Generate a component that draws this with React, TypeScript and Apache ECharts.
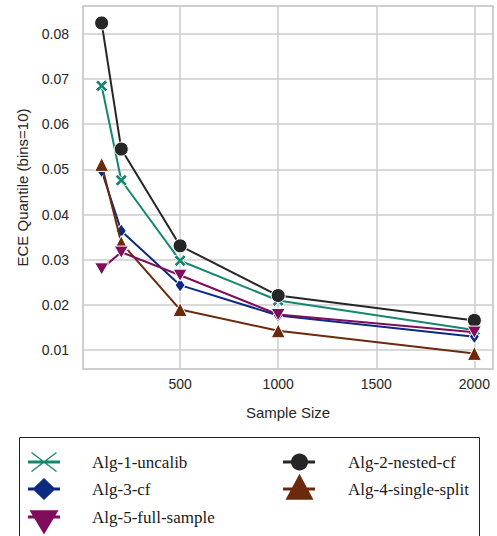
import React, { useEffect, useRef } from "react";
import * as echarts from "echarts";

const sampleSizes = [100, 200, 500, 1000, 2000];
const seriesNames = [
  "Alg-1-uncalib",
  "Alg-2-nested-cf",
  "Alg-3-cf",
  "Alg-4-single-split",
  "Alg-5-full-sample",
];
const alg1 = [0.0685, 0.0476, 0.0298, 0.0210, 0.0145];
const alg2 = [0.0824, 0.0545, 0.0331, 0.0221, 0.0166];
const alg3 = [0.0497, 0.0364, 0.0244, 0.0177, 0.0130];
const alg4 = [0.0511, 0.0338, 0.0190, 0.0143, 0.0093];
const alg5 = [0.0280, 0.0317, 0.0266, 0.0179, 0.0140];
const seriesValues = [alg1, alg2, alg3, alg4, alg5];
const colors = ["#15876f", "#262626", "#0c2a82", "#6b2a0c", "#800c5c"];

const X_PATH = "path://M0,2 L2,0 L5,3 L8,0 L10,2 L7,5 L10,8 L8,10 L5,7 L2,10 L0,8 L3,5 Z";
const DOWN_TRI = "path://M0,0 L10,0 L5,8.66 Z";
const symbols = [X_PATH, "circle", "diamond", "triangle", DOWN_TRI];
const symbolSizes: any[] = [12, 14, [10, 14], 14, 14];

// ---- legend icon paths (box 32 x 36, line centred at y = 18) ----
type Pt = [number, number];
const poly = (pts: Pt[]) =>
  "M" + pts.map((p) => p[0].toFixed(2) + "," + p[1].toFixed(2)).join(" L") + " Z";
const seg = (a: Pt, b: Pt, h: number) => {
  const dx = b[0] - a[0];
  const dy = b[1] - a[1];
  const len = Math.hypot(dx, dy);
  const px = (-dy / len) * h;
  const py = (dx / len) * h;
  return poly([
    [a[0] + px, a[1] + py],
    [b[0] + px, b[1] + py],
    [b[0] - px, b[1] - py],
    [a[0] - px, a[1] - py],
  ]);
};
const BOUNDS = "M0,0 M32,36 ";
const LINE = seg([0, 18], [32, 18], 1.5);
const circlePts = (cx: number, cy: number, r: number): Pt[] => {
  const pts: Pt[] = [];
  for (let k = 0; k < 32; k++) {
    const t = (k / 32) * Math.PI * 2;
    pts.push([cx + r * Math.cos(t), cy - r * Math.sin(t)]);
  }
  return pts;
};
const legendIcons = [
  "path://" + BOUNDS + LINE + " " + seg([3.5, 8.5], [28.5, 27.5], 0.7) + " " + seg([3.5, 27.5], [28.5, 8.5], 0.7),
  "path://" + BOUNDS + LINE + " " + poly(circlePts(16.5, 18, 8.5)),
  "path://" + BOUNDS + LINE + " " + poly([[16, 7], [4.5, 18], [16, 29], [27.5, 18]]),
  "path://" + BOUNDS + LINE + " " + poly([[16.5, 2.7], [2.5, 28.7], [30.5, 28.7]]),
  "path://" + BOUNDS + LINE + " " + poly([[16, 35.5], [30.5, 11.3], [1.5, 11.3]]),
];
const legendLeft = [28, 283, 28, 283, 28];
const legendLineY = [462, 462, 489, 489, 517];
const legendTextPad = [27, 28, 27, 28, 27];

export default function App() {
  const ref = useRef<HTMLDivElement>(null);
  useEffect(() => {
    if (!ref.current) return;
    const chart = echarts.init(ref.current, undefined, { renderer: "svg" });
    const axisLabelStyle = {
      color: "#262626",
      fontSize: 14,
      fontFamily: "Liberation Sans, Arial, sans-serif",
    };
    const series = seriesNames.map((name, i) => ({
      name,
      type: "line",
      data: sampleSizes.map((x, j) => [x, seriesValues[i][j]]),
      symbol: symbols[i],
      symbolSize: symbolSizes[i],
      symbolKeepAspect: true,
      showAllSymbol: true,
      lineStyle: { color: colors[i], width: 2 },
      itemStyle: { color: colors[i], borderColor: "#ffffff", borderWidth: 1 },
      z: 2 + i,
    }));
    const legends = seriesNames.map((name, i) => ({
      orient: "vertical",
      left: legendLeft[i],
      top: legendLineY[i] - 18,
      padding: 0,
      itemWidth: 32,
      itemHeight: 36,
      itemGap: 0,
      symbolKeepAspect: true,
      itemStyle: { borderWidth: 0 },
      data: [{ name, icon: legendIcons[i] }],
      textStyle: {
        fontFamily: "Liberation Serif, Times New Roman, serif",
        fontSize: 17,
        color: "#1a1a1a",
        padding: [0, 0, 0, legendTextPad[i]],
      },
    }));
    chart.setOption({
      animation: false,
      backgroundColor: "#ffffff",
      grid: {
        left: 83,
        top: 6,
        right: 4,
        bottom: 167,
        show: true,
        borderColor: "#cccccc",
        borderWidth: 1.5,
        backgroundColor: "transparent",
      },
      xAxis: {
        type: "value",
        min: 5,
        max: 2095,
        splitNumber: 4,
        name: "Sample Size",
        nameLocation: "middle",
        nameGap: 36,
        nameTextStyle: { ...axisLabelStyle, fontSize: 15 },
        axisLine: { show: false },
        axisTick: { show: false },
        axisLabel: {
          ...axisLabelStyle,
          margin: 8,
          showMinLabel: false,
          showMaxLabel: false,
          formatter: (v: number) => String(v),
        },
        splitLine: { show: true, lineStyle: { color: "#cccccc", width: 1.5 } },
      },
      yAxis: {
        type: "value",
        min: 0.00585,
        max: 0.08615,
        splitNumber: 8,
        name: "ECE Quantile (bins=10)",
        nameLocation: "middle",
        nameGap: 53,
        nameTextStyle: { ...axisLabelStyle, fontSize: 15 },
        axisLine: { show: false },
        axisTick: { show: false },
        axisLabel: {
          ...axisLabelStyle,
          margin: 14,
          showMinLabel: false,
          showMaxLabel: false,
          formatter: (v: number) => v.toFixed(2),
        },
        splitLine: { show: true, lineStyle: { color: "#cccccc", width: 1.5 } },
      },
      legend: legends,
      graphic: [
        {
          type: "rect",
          shape: { x: 19.5, y: 437.5, width: 460, height: 120 },
          style: { fill: "none", stroke: "#222222", lineWidth: 1 },
          z: -1,
        },
      ],
      series,
    });
    return () => chart.dispose();
  }, []);
  return (
    <div
      ref={ref}
      style={{ position: "fixed", left: 0, top: 0, width: 497, height: 536 }}
    />
  );
}
